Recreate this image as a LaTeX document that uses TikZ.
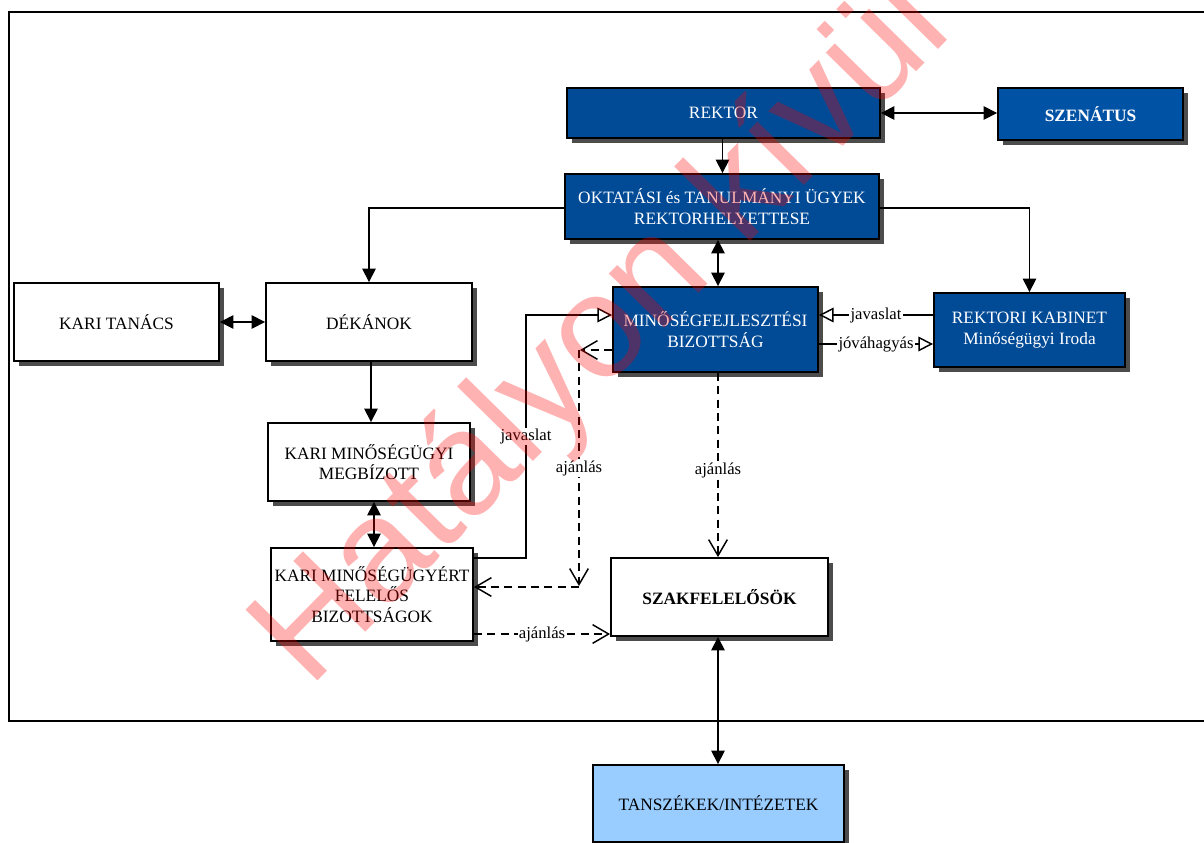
\documentclass[tikz,border=0pt]{standalone}
\usepackage{fontspec}
\setmainfont{Liberation Serif}
\newfontfamily\wmfont{Liberation Sans}
\usetikzlibrary{arrows.meta,shadows}
\definecolor{darkblue}{HTML}{004A96}
\definecolor{senblue}{HTML}{0052A5}
\definecolor{lightblue}{HTML}{99CCFF}
\tikzset{
  sz/.style 2 args={minimum width=#1*0.75pt, minimum height=#2*0.75pt},
  box/.style={draw=black, line width=1.4pt, fill=white, inner sep=2pt, align=center,
    font=\fontsize{13}{15.5}\selectfont,
    general shadow={fill=black!70, shadow xshift=3.5pt, shadow yshift=-3.5pt}},
  bluebox/.style={box, fill=darkblue, text=white},
  lab/.style={fill=white, inner sep=1pt, font=\fontsize{12.5}{14}\selectfont},
  ln/.style={line width=1.1pt},
  arr/.style={ln, -{Triangle[length=10pt,width=10pt]}},
  darr/.style={ln, {Triangle[length=10pt,width=10pt]}-{Triangle[length=10pt,width=10pt]}},
  oarr/.style={ln, -{Triangle[open,length=11pt,width=11pt,fill=white]}},
  dsh/.style={ln, dash pattern=on 6pt off 4pt, -{Straight Barb[length=12pt,width=14pt]}},
  wm/.style={inner sep=0pt, anchor=base west, rotate=45.5, text=red, text opacity=0.3,
    font=\wmfont\fontsize{110}{110}\selectfont}
}
\begin{document}
\begin{tikzpicture}[x=0.75pt,y=-0.75pt]
\useasboundingbox (0,0) rectangle (1204,843);
\fill[white] (0,0) rectangle (1204,843);
% frame
\draw[line width=1.5pt] (1210,12) -- (9,12) -- (9,721) -- (1210,721);

% nodes
\node[bluebox, sz={313}{50}] (rek) at (723.5,113) {REKTOR};
\node[bluebox, fill=senblue, sz={185}{52}, font=\fontsize{13}{15.5}\selectfont\bfseries] (sze) at (1090.5,114) {SZENÁTUS};
\node[bluebox, sz={314}{65}] (okt) at (722,206.5) {OKTATÁSI és TANULMÁNYI ÜGYEK\\REKTORHELYETTESE};
\node[box, sz={205}{78}] (kt) at (116.5,322) {KARI TANÁCS};
\node[box, sz={206}{78}] (dek) at (369,322) {DÉKÁNOK};
\node[bluebox, sz={205}{85}] (min) at (715.5,329.5) {MINŐSÉGFEJLESZTÉSI\\BIZOTTSÁG};
\node[bluebox, sz={191}{74}] (kab) at (1029.5,330) {REKTORI KABINET\\Minőségügyi Iroda};
\node[box, sz={202}{78}] (meg) at (369,462) {KARI MINŐSÉGÜGYI\\MEGBÍZOTT};
\node[box, sz={202}{93}] (ugy) at (372,594.5) {KARI MINŐSÉGÜGYÉRT\\FELELŐS\\BIZOTTSÁGOK};
\node[box, sz={217}{78}, font=\fontsize{13}{15.5}\selectfont\bfseries] (szak) at (719.5,597) {SZAKFELELŐSÖK};
\node[box, fill=lightblue, sz={251}{77}] (tan) at (718.5,803.5) {TANSZÉKEK/INTÉZETEK};

% connectors
\draw[darr] (rek.east) -- (sze.west |- rek.east);
\draw[arr] (rek.south -| 722.5,0) -- (okt.north -| 722.5,0);
\draw[arr] (okt.west |- 0,208) -| (dek.north);
\draw[arr] (okt.east |- 0,208) -| (kab.north);
\draw[darr] (okt.south -| 718,0) -- (min.north -| 718,0);
\draw[darr] (kt.east) -- (dek.west);
\draw[arr] (dek.south -| 371,0) -- (meg.north -| 371,0);
\draw[darr] (meg.south -| 374,0) -- (ugy.north -| 374,0);
\draw[oarr] (ugy.east |- 0,558) -- (526,558) -- node[lab]{javaslat} (526,315) -- (min.west |- 0,315);
\draw[dsh] (min.west |- 0,350) -- (580,350);
\draw[dsh] (579,350) -- node[lab]{ajánlás} (579,586);
\draw[dsh] (579,587) -- (ugy.east |- 0,587);
\draw[dsh] (min.south -| 718,0) -- node[lab, pos=0.53]{ajánlás} (szak.north -| 718,0);
\draw[dsh] (ugy.east |- 0,634) -- node[lab]{ajánlás} (szak.west |- 0,634);
\draw[oarr] (kab.west |- 0,315) -- node[lab]{javaslat} (min.east |- 0,315);
\draw[oarr] (min.east |- 0,344) -- node[lab]{jóváhagyás} (kab.west |- 0,344);
\draw[darr] (szak.south -| 718,0) -- (tan.north -| 718,0);

% watermark
\node[wm] (wmark) at (309,690) {Hatályon kívül};
\end{tikzpicture}
\end{document}
